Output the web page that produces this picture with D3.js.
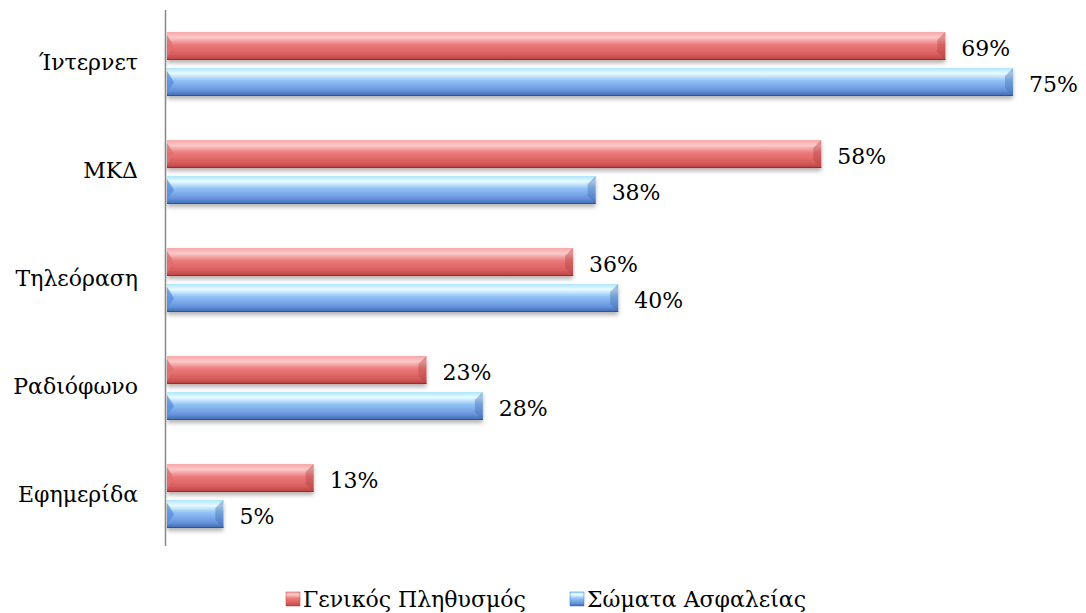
<!DOCTYPE html>
<meta charset="utf-8">
<style>
    body { margin: 0; background: #fff; }
    text { font-family: "DejaVu Serif", "Liberation Serif", serif; fill: #000; }
</style>
<body>
<svg width="1086" height="613"></svg>
<script src="https://d3js.org/d3.v7.min.js"></script>
<script>
    var categories = ["Ίντερνετ", "ΜΚΔ", "Τηλεόραση", "Ραδιόφωνο", "Εφημερίδα"];
    var seriesNames = ["Γενικός Πληθυσμός", "Σώματα Ασφαλείας"];
    var general = [69, 58, 36, 23, 13];
    var security = [75, 38, 40, 28, 5];

    var svg = d3.select("svg");
    var defs = svg.append("defs");
    var fs = 22;

    var x0 = 167;
    var x = d3.scaleLinear().domain([0, 75]).range([x0, 1013]);
    var y = d3.scaleBand().domain(categories).range([10, 550]);
    var sub = d3.scaleBand().domain([0, 1]).range([22, 86]).paddingInner(0.22);

    var palettes = [
        ["#f7a9a9", "#fbc8c8", "#ec7a7a", "#d85c5c", "#b64343"],
        ["#b0e4ff", "#e6fcff", "#92c2f6", "#6794dc", "#3d69ae"]
    ];
    palettes.forEach(function(p, i) {
        var g = defs.append("linearGradient").attr("id", "grad" + i)
            .attr("x1", 0).attr("y1", 0).attr("x2", 0).attr("y2", 1);
        [[0, p[0]], [0.2, p[1]], [0.45, p[2]], [0.8, p[3]], [1, p[4]]].forEach(function(s) {
            g.append("stop").attr("offset", s[0]).attr("stop-color", s[1]);
        });
    });
    var sh = defs.append("filter").attr("id", "shadow").attr("x", -0.05).attr("y", -0.3).attr("width", 1.1).attr("height", 1.8);
    sh.append("feDropShadow").attr("dx", 0).attr("dy", 3).attr("stdDeviation", 2)
        .attr("flood-color", "#000").attr("flood-opacity", 0.3);

    var data = [];
    categories.forEach(function(c, i) {
        data.push({ cat: c, s: 0, v: general[i] });
        data.push({ cat: c, s: 1, v: security[i] });
    });

    var bars = svg.append("g").selectAll("g").data(data).enter().append("g")
        .attr("transform", function(d) { return "translate(0," + (y(d.cat) + sub(d.s)) + ")"; });
    var h = sub.bandwidth();

    bars.append("rect")
        .attr("x", x0).attr("y", 0)
        .attr("width", function(d) { return x(d.v) - x0; })
        .attr("height", h)
        .attr("fill", function(d) { return "url(#grad" + d.s + ")"; })
        .attr("filter", "url(#shadow)");
    // bevel at the right end
    bars.append("path")
        .attr("d", function(d) {
            var e = x(d.v), b = Math.min(8, (x(d.v) - x0) / 3);
            return "M" + e + ",0L" + (e - b) + "," + b + "L" + (e - b) + "," + (h - b) + "L" + e + "," + h + "Z";
        })
        .attr("fill", function(d) { return d.s ? "#3f6bb0" : "#b04040"; })
        .attr("opacity", 0.4);
    // bevel at the left end
    bars.append("path")
        .attr("d", function() {
            return "M" + x0 + ",3L" + (x0 + 7) + "," + (h / 2) + "L" + x0 + "," + (h - 3) + "Z";
        })
        .attr("fill", function(d) { return d.s ? "#5b8fe0" : "#e07070"; })
        .attr("opacity", 0.8);
    // bottom edge line
    bars.append("line")
        .attr("x1", x0).attr("x2", function(d) { return x(d.v); })
        .attr("y1", h - 0.5).attr("y2", h - 0.5)
        .attr("stroke", function(d) { return d.s ? "#2f558f" : "#8e3030"; })
        .attr("stroke-width", 1);

    bars.append("text")
        .attr("x", function(d) { return x(d.v) + 16; })
        .attr("y", h / 2 + 10)
        .attr("font-size", fs)
        .text(function(d) { return d.v + "%"; });

    // category labels
    svg.append("g").selectAll("text").data(categories).enter().append("text")
        .attr("x", 138).attr("y", function(d) { return y(d) + y.bandwidth() / 2 + 6; })
        .attr("text-anchor", "end").attr("font-size", fs)
        .text(function(d) { return d; });

    // axis line
    svg.append("line").attr("x1", x0 - 1.5).attr("x2", x0 - 1.5).attr("y1", 10).attr("y2", 546)
        .attr("stroke", "#888").attr("stroke-width", 1.5);

    // legend
    var legX = [286, 570];
    var leg = svg.append("g").selectAll("g").data(seriesNames).enter().append("g")
        .attr("transform", function(d, i) { return "translate(" + legX[i] + ",592)"; });
    leg.append("rect").attr("width", 14).attr("height", 14)
        .attr("fill", function(d, i) { return "url(#grad" + i + ")"; })
        .attr("stroke", function(d, i) { return i ? "#3f6bb0" : "#b04040"; }).attr("stroke-width", 0.5);
    leg.append("text").attr("x", 17).attr("y", 15).attr("font-size", fs)
        .text(function(d) { return d; });
</script>
</body>
